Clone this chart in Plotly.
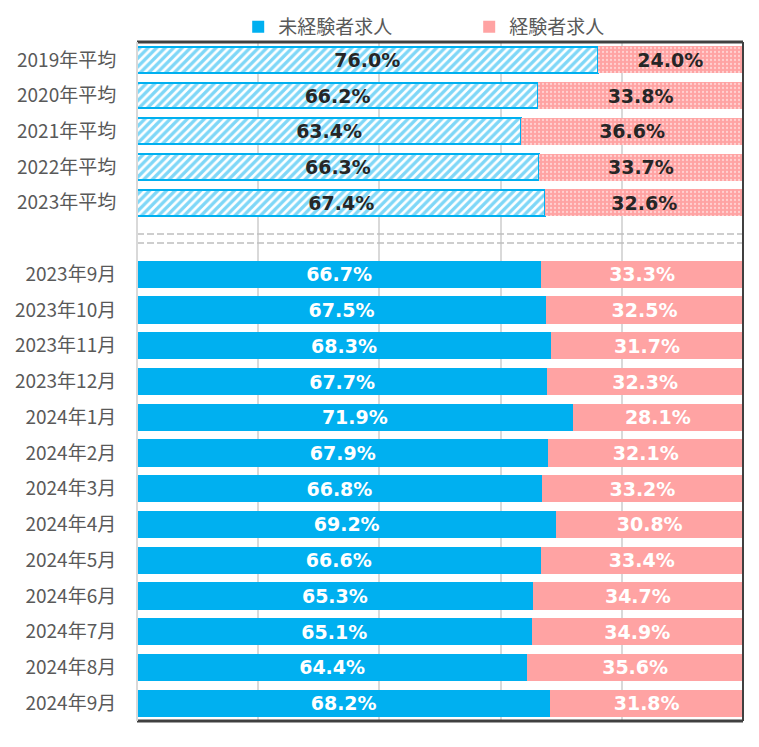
import plotly.graph_objects as go

avg_labels = ["2019年平均", "2020年平均", "2021年平均", "2022年平均", "2023年平均"]
avg_inexp = [76.0, 66.2, 63.4, 66.3, 67.4]
avg_exp = [24.0, 33.8, 36.6, 33.7, 32.6]

month_labels = ["2023年9月", "2023年10月", "2023年11月", "2023年12月", "2024年1月", "2024年2月",
                "2024年3月", "2024年4月", "2024年5月", "2024年6月", "2024年7月", "2024年8月", "2024年9月"]
month_inexp = [66.7, 67.5, 68.3, 67.7, 71.9, 67.9, 66.8, 69.2, 66.6, 65.3, 65.1, 64.4, 68.2]
month_exp = [33.3, 32.5, 31.7, 32.3, 28.1, 32.1, 33.2, 30.8, 33.4, 34.7, 34.9, 35.6, 31.8]

blank_label = " "
categories = avg_labels + [blank_label] + month_labels

series_names = ["未経験者求人", "経験者求人"]
BLUE = "#00B0F0"
PINK = "#FFA3A3"
FONT = "Noto Sans CJK JP"
NUMFONT = "DejaVu Sans"

fig = go.Figure()

def fmt(v):
    return [f"{x:.1f}%" for x in v]

common = dict(orientation="h", textposition="inside", insidetextanchor="middle", constraintext="none")

fig.add_trace(go.Bar(
    y=month_labels, x=month_inexp, name=series_names[0], legendrank=1,
    marker=dict(color=BLUE, line=dict(width=0)),
    text=fmt(month_inexp),
    textfont=dict(color="white", size=19, family=NUMFONT, weight="bold"),
    width=0.76, **common))
fig.add_trace(go.Bar(
    y=month_labels, x=month_exp, name=series_names[1], legendrank=2,
    marker=dict(color=PINK, line=dict(width=0)),
    text=fmt(month_exp),
    textfont=dict(color="white", size=19, family=NUMFONT, weight="bold"),
    width=0.76, **common))
fig.add_trace(go.Bar(
    y=avg_labels, x=avg_inexp, name=series_names[0], showlegend=False,
    marker=dict(color="white", line=dict(color=BLUE, width=2),
                pattern=dict(shape="/", fgcolor=BLUE, bgcolor="white", size=6, solidity=0.55, fillmode="overlay")),
    text=fmt(avg_inexp),
    textfont=dict(color="#262626", size=19, family=NUMFONT, weight="bold"),
    hoverinfo="skip", width=0.72, **common))
fig.add_trace(go.Bar(
    y=avg_labels, x=avg_exp, name=series_names[1], showlegend=False,
    marker=dict(color=PINK, line=dict(color=PINK, width=0),
                pattern=dict(shape=".", fgcolor="white", bgcolor=PINK, size=4, solidity=0.25, fillmode="overlay")),
    text=fmt(avg_exp),
    textfont=dict(color="#262626", size=19, family=NUMFONT, weight="bold"),
    hoverinfo="skip", width=0.76, **common))

# double dashed separator in blank row
bi = categories.index(blank_label)
for dy in (-0.125, 0.125):
    fig.add_shape(type="line", xref="paper", yref="y", x0=0, x1=1, y0=bi + dy, y1=bi + dy,
                  line=dict(color="#BFBFBF", width=1.5, dash="7px,3px"), layer="above")

# borders
fig.add_shape(type="line", xref="paper", yref="paper", x0=0, x1=1, y0=1, y1=1, line=dict(color="#404040", width=3))
fig.add_shape(type="line", xref="paper", yref="paper", x0=0, x1=1, y0=0, y1=0, line=dict(color="#404040", width=3))
fig.add_shape(type="line", xref="paper", yref="paper", x0=1, x1=1, y0=0, y1=1, line=dict(color="#404040", width=2))
fig.add_shape(type="line", xref="paper", yref="paper", x0=0, x1=0, y0=0, y1=1, line=dict(color="#D9D9D9", width=2))

fig.update_layout(
    width=759, height=747, barmode="stack", bargap=0.25,
    margin=dict(l=129, r=24, t=34, b=34, autoexpand=False),
    plot_bgcolor="white", paper_bgcolor="white",
    font=dict(family=FONT, color="#595959", size=19),
    legend=dict(orientation="h", x=0.167, xanchor="left", yref="container", y=1.0, yanchor="top",
                traceorder="normal", entrywidth=186, bgcolor="rgba(0,0,0,0)",
                font=dict(size=19, color="#595959", family=FONT), itemwidth=30),
    xaxis=dict(range=[0, 100], showticklabels=False, showgrid=True, gridcolor="#D9D9D9", gridwidth=2,
               dtick=20, zeroline=False, fixedrange=True, automargin=False),
    yaxis=dict(categoryorder="array", categoryarray=categories, autorange="reversed",
               showgrid=False, ticks="outside", ticklen=16, tickcolor="white", automargin=False,
               tickfont=dict(size=19, color="#595959", family=FONT)),
)

fig.write_html("out.html")
